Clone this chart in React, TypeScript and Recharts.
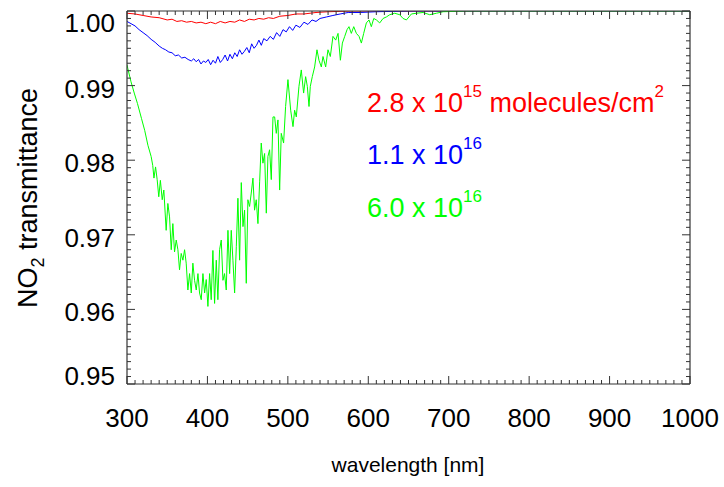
import React from "react";
import { LineChart, Line, XAxis, YAxis, Customized } from "recharts";

// wavelength [nm], transmittance pairs
const RED_WL = [300, 310, 320, 330, 340, 350, 356, 362, 368, 374, 380, 386, 392, 398, 404, 410, 416, 422, 428, 434, 440, 446, 452, 458, 464, 470, 476, 482, 490, 500, 510, 520, 535, 550, 580, 1000];
const RED_T = [0.9997, 0.9996, 0.9994, 0.9992, 0.9991, 0.9988, 0.9989, 0.9986, 0.9987, 0.9985, 0.9986, 0.9984, 0.9985, 0.9983, 0.9985, 0.9983, 0.9986, 0.9984, 0.9986, 0.9985, 0.9988, 0.9986, 0.9989, 0.9988, 0.999, 0.9989, 0.9991, 0.999, 0.9993, 0.9994, 0.9996, 0.9996, 0.9998, 0.9999, 1.0, 1.0];

const BLUE_WL = [300, 305, 310, 315, 320, 325, 330, 335, 340, 344, 348, 352, 356, 360, 364, 368, 372, 376, 380, 383, 386, 389, 392, 395, 398, 401, 404, 407, 410, 413, 416, 419, 422, 425, 428, 431, 434, 437, 440, 443, 446, 449, 452, 455, 458, 461, 464, 467, 470, 474, 478, 482, 486, 490, 494, 498, 502, 506, 510, 515, 520, 525, 530, 535, 540, 548, 556, 565, 575, 590, 610, 650, 1000];
const BLUE_T = [0.9986, 0.9983, 0.998, 0.9975, 0.9971, 0.9967, 0.9962, 0.9958, 0.9953, 0.995, 0.9948, 0.9945, 0.9944, 0.994, 0.9941, 0.9937, 0.9938, 0.9935, 0.9933, 0.9936, 0.9932, 0.9935, 0.9929, 0.9933, 0.9931, 0.9935, 0.9928, 0.9934, 0.993, 0.9939, 0.9931, 0.9935, 0.9941, 0.9933, 0.9942, 0.9936, 0.9944, 0.9939, 0.9948, 0.9942, 0.9946, 0.9951, 0.9944, 0.9956, 0.995, 0.9954, 0.9961, 0.9954, 0.9963, 0.996, 0.9966, 0.9962, 0.9971, 0.9966, 0.9975, 0.9972, 0.9979, 0.9974, 0.9981, 0.9978, 0.9985, 0.9982, 0.9988, 0.9986, 0.999, 0.9992, 0.9994, 0.9996, 0.9998, 0.9998, 0.9999, 1.0, 1.0];

const GREEN_WL = [300, 301, 305, 309, 313, 318, 322, 326, 330, 332, 333.5, 335.5, 337.5, 339.5, 341.5, 343.8, 345.8, 348.7, 350.8, 352.9, 355, 357, 359.1, 361.2, 363.3, 365.3, 367.4, 369.5, 371.6, 373.6, 375.7, 377.8, 379.9, 381.9, 384, 386.1, 388.2, 390.2, 392.3, 394.4, 396.5, 398.5, 400.6, 402.7, 404.7, 406.8, 408.9, 411, 413, 415.1, 417.2, 419.3, 421.3, 423.4, 425.5, 427.6, 429.6, 431.7, 433.8, 435.9, 437.9, 440, 442.1, 444.2, 446.2, 448.3, 450.3, 452.4, 454.5, 456.6, 458.6, 460.7, 462.8, 464.9, 466.9, 469, 471.1, 473.2, 475.2, 477.3, 479.4, 481.5, 483.6, 485.6, 487.7, 489.8, 491.8, 494.7, 497.2, 500.1, 503.5, 506.4, 508.4, 510.5, 513.8, 516.7, 519.6, 522.1, 524.2, 526.3, 527.9, 530.4, 533.3, 536.2, 538.7, 541.6, 543.7, 547, 549.9, 552.8, 556.1, 559.5, 562.4, 565.3, 567.8, 570.7, 573.6, 576, 578.9, 581.9, 585.2, 588.5, 591.4, 594.3, 597.6, 600.9, 603.8, 606.8, 610.1, 614.2, 618.4, 622.5, 626.7, 632.9, 639.1, 643.2, 647.4, 653.6, 659.8, 668.1, 676.4, 684.7, 693, 720, 1000];
const GREEN_T = [0.9928, 0.9923, 0.9905, 0.989, 0.9876, 0.9856, 0.984, 0.982, 0.9805, 0.9793, 0.9776, 0.9791, 0.9774, 0.9751, 0.9773, 0.9747, 0.976, 0.9706, 0.9742, 0.9724, 0.968, 0.9715, 0.9677, 0.9693, 0.968, 0.9653, 0.9675, 0.9666, 0.968, 0.9662, 0.9626, 0.9648, 0.9622, 0.9662, 0.9639, 0.9626, 0.9648, 0.9622, 0.9613, 0.9648, 0.9622, 0.964, 0.9604, 0.9648, 0.9613, 0.9679, 0.9608, 0.9666, 0.9613, 0.968, 0.9693, 0.9639, 0.9648, 0.9626, 0.9706, 0.9648, 0.9706, 0.9666, 0.9622, 0.9684, 0.9749, 0.9666, 0.977, 0.9711, 0.9733, 0.9635, 0.9747, 0.9738, 0.9756, 0.9776, 0.9733, 0.9747, 0.9715, 0.9771, 0.9823, 0.9796, 0.9809, 0.9729, 0.9805, 0.9814, 0.9774, 0.9858, 0.9858, 0.9836, 0.9854, 0.976, 0.9836, 0.9823, 0.9872, 0.9908, 0.9867, 0.9845, 0.9867, 0.9858, 0.9899, 0.9921, 0.989, 0.9912, 0.9899, 0.9872, 0.9899, 0.9912, 0.9925, 0.9948, 0.9934, 0.9925, 0.9939, 0.9925, 0.9948, 0.9939, 0.9966, 0.9961, 0.997, 0.9934, 0.9957, 0.9966, 0.9975, 0.9979, 0.997, 0.9979, 0.997, 0.9966, 0.9957, 0.997, 0.9984, 0.9988, 0.9979, 0.999, 0.9988, 0.9984, 0.999, 0.9992, 0.9995, 0.9997, 0.9995, 0.999, 0.9988, 0.9996, 0.9997, 0.9998, 0.9995, 0.9997, 0.9999, 1.0, 1.0];

const X_MAJOR = [300, 400, 500, 600, 700, 800, 900, 1000];
const Y_MAJOR = [0.95, 0.96, 0.97, 0.98, 0.99, 1.0];

// minor ticks every 10 nm and every 0.001
const X_TICKS = Array.from({ length: 71 }, (_, i) => 300 + i * 10);
const Y_TICKS = Array.from({ length: 51 }, (_, i) => +(0.95 + i * 0.001).toFixed(3));

const pairs = (wl: number[], t: number[]) => wl.map((w, i) => ({ wl: w, t: t[i] }));
const red = pairs(RED_WL, RED_T);
const blue = pairs(BLUE_WL, BLUE_T);
const green = pairs(GREEN_WL, GREEN_T);

const FONT = '"Liberation Sans", Arial, Helvetica, sans-serif';
const AXIS = "#333";

if (typeof document !== "undefined") document.body.style.margin = "0";

const isMajorX = (v: number) => X_MAJOR.includes(v);
const isMajorY = (v: number) => Y_MAJOR.some((m) => Math.abs(m - v) < 1e-6);

function BottomTick({ x, y, payload }: any) {
  const v = payload.value;
  const major = isMajorX(v);
  return (
    <g>
      <line x1={x} x2={x} y1={y} y2={y - (major ? 8 : 4)} stroke={AXIS} />
      {major && (
        <text x={x} y={y + 43} textAnchor="middle" fontSize={26} fontFamily={FONT} fill="#000">
          {v}
        </text>
      )}
    </g>
  );
}

function TopTick({ x, y, payload }: any) {
  const major = isMajorX(payload.value);
  return <line x1={x} x2={x} y1={y} y2={y + (major ? 8 : 4)} stroke={AXIS} />;
}

function LeftTick({ x, y, payload }: any) {
  const v = payload.value;
  const major = isMajorY(v);
  let dy = 12;
  if (Math.abs(v - 1) < 1e-6) dy = 21;
  if (Math.abs(v - 0.95) < 1e-6) dy = 1;
  return (
    <g>
      <line x1={x} x2={x + (major ? 8 : 4)} y1={y} y2={y} stroke={AXIS} />
      {major && (
        <text x={x - 12} y={y + dy} textAnchor="end" fontSize={26} fontFamily={FONT} fill="#000">
          {v.toFixed(2)}
        </text>
      )}
    </g>
  );
}

function RightTick({ x, y, payload }: any) {
  const major = isMajorY(payload.value);
  return <line x1={x} x2={x - (major ? 8 : 4)} y1={y} y2={y} stroke={AXIS} />;
}

function Annotations() {
  return (
    <g fontFamily={FONT}>
      <text x={408} y={472} textAnchor="middle" fontSize={21} fill="#000">
        wavelength [nm]
      </text>
      <text transform="rotate(-90)" x={-198} y={37} textAnchor="middle" fontSize={27} fill="#000">
        NO<tspan fontSize={18} dy={7}>2</tspan>
        <tspan dy={-7}> transmittance</tspan>
      </text>
      <text x={367} y={112} fontSize={27} fill="#ff0000">
        2.8 x 10<tspan fontSize={17} dy={-15}>15</tspan>
        <tspan dy={15}> molecules/cm</tspan>
        <tspan fontSize={17} dy={-15}>2</tspan>
      </text>
      <text x={367} y={164} fontSize={27} fill="#0000ff">
        1.1 x 10<tspan fontSize={17} dy={-15}>16</tspan>
      </text>
      <text x={367} y={217} fontSize={27} fill="#00ff00">
        6.0 x 10<tspan fontSize={17} dy={-15}>16</tspan>
      </text>
    </g>
  );
}

const xAxisCommon = {
  type: "number" as const,
  dataKey: "wl",
  domain: [300, 1000],
  ticks: X_TICKS,
  interval: 0,
  tickSize: 0,
  tickMargin: 0,
  height: 1,
  axisLine: { stroke: AXIS, strokeWidth: 1.2 },
  allowDataOverflow: true,
};

const yAxisCommon = {
  type: "number" as const,
  domain: [0.95, 1.0],
  ticks: Y_TICKS,
  interval: 0,
  tickSize: 0,
  tickMargin: 0,
  width: 1,
  axisLine: { stroke: AXIS, strokeWidth: 1.2 },
  allowDataOverflow: true,
};

export default function App() {
  return (
    <div style={{ width: 724, height: 487, background: "#fff" }}>
      <LineChart width={724} height={487} margin={{ top: 10, right: 33, bottom: 102, left: 126 }}>
        <XAxis xAxisId="b" orientation="bottom" {...xAxisCommon} tick={<BottomTick />} />
        <XAxis xAxisId="t" orientation="top" {...xAxisCommon} tick={<TopTick />} />
        <YAxis yAxisId="l" orientation="left" {...yAxisCommon} tick={<LeftTick />} />
        <YAxis yAxisId="r" orientation="right" {...yAxisCommon} tick={<RightTick />} />
        <Line data={red} dataKey="t" xAxisId="b" yAxisId="l" type="linear" stroke="#ff0000" strokeWidth={1} dot={false} isAnimationActive={false} />
        <Line data={blue} dataKey="t" xAxisId="b" yAxisId="l" type="linear" stroke="#0000ff" strokeWidth={1} dot={false} isAnimationActive={false} />
        <Line data={green} dataKey="t" xAxisId="b" yAxisId="l" type="linear" stroke="#00ff00" strokeWidth={1} dot={false} isAnimationActive={false} />
        <Line data={green} dataKey="t" xAxisId="t" yAxisId="r" type="linear" stroke="none" strokeWidth={0} dot={false} isAnimationActive={false} legendType="none" />
        <Customized component={<Annotations />} />
      </LineChart>
    </div>
  );
}
